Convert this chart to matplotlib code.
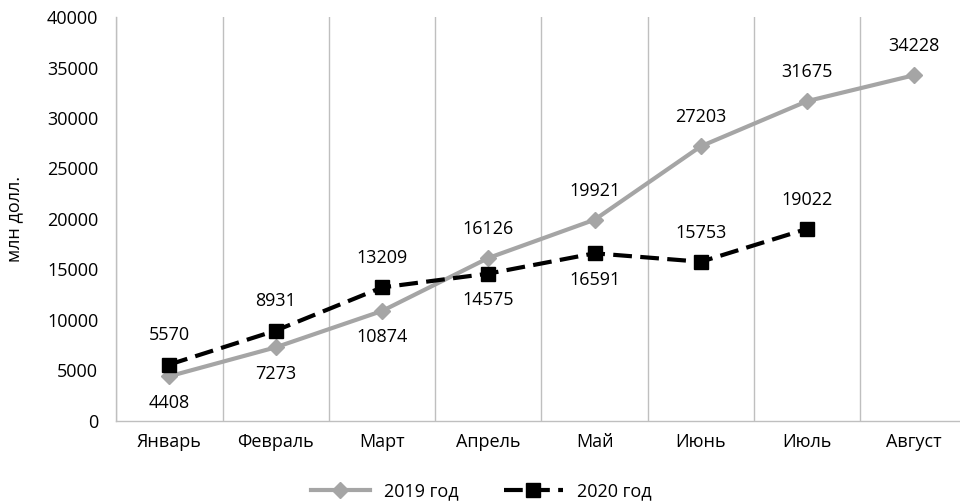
import matplotlib
matplotlib.use("Agg")
from matplotlib import pyplot as plt

# Data
months = ["Январь", "Февраль", "Март", "Апрель", "Май", "Июнь", "Июль", "Август"]
values_2019 = [4408, 7273, 10874, 16126, 19921, 27203, 31675, 34228]
values_2020 = [5570, 8931, 13209, 14575, 16591, 15753, 19022]
# where each data label sits relative to its point
labels_2019 = ["below", "below", "below", "above", "above", "above", "above", "above"]
labels_2020 = ["above", "above", "above", "below", "below", "above", "above"]

plt.rcParams["font.family"] = ["Open Sans", "DejaVu Sans"]
plt.rcParams["font.size"] = 13

fig = plt.figure(figsize=(9.6, 5.03), dpi=100)
ax = fig.add_axes([0.1211, 0.1636, 0.8859, 0.8024])

grid_color = "#bfbfbf"
gray = "#a5a5a5"

x19 = list(range(len(values_2019)))
x20 = list(range(len(values_2020)))

ax.plot(x19, values_2019, color=gray, lw=3, marker="D", markersize=8.5,
        label="2019 год", zorder=3)
ax.plot(x20, values_2020, color="black", lw=3, dashes=[4.5, 2], marker="s",
        markersize=10, label="2020 год", zorder=4)

# Data labels
for xs, vals, where in [(x19, values_2019, labels_2019), (x20, values_2020, labels_2020)]:
    for x, v, w in zip(xs, vals, where):
        dy = 21 if w == "above" else -19
        ax.annotate(str(v), (x, v), xytext=(0, dy), textcoords="offset points",
                    ha="center", va="center", fontsize=13)

ax.set_xlim(-0.5, 7.5)
ax.set_ylim(0, 40000)
ax.set_yticks(range(0, 40001, 5000))
ax.set_xticks(x19)
ax.set_xticklabels(months)
ax.set_xticks([i - 0.5 for i in range(len(months) + 1)], minor=True)
ax.grid(which="minor", axis="x", color=grid_color, lw=1)
ax.tick_params(which="both", length=0)
ax.tick_params(axis="y", pad=13)
ax.tick_params(axis="x", pad=9)

for side in ["top", "right"]:
    ax.spines[side].set_visible(False)
for side in ["left", "bottom"]:
    ax.spines[side].set_color(grid_color)
    ax.spines[side].set_linewidth(1)

ax.set_ylabel("млн долл.", fontsize=13, labelpad=17)

fig.legend(loc="center", bbox_to_anchor=(0.501, 0.0225), ncol=2, frameon=False,
           handlelength=3.3, handletextpad=0.75, columnspacing=2.5, fontsize=13)

fig.savefig("out.png", dpi=100)
